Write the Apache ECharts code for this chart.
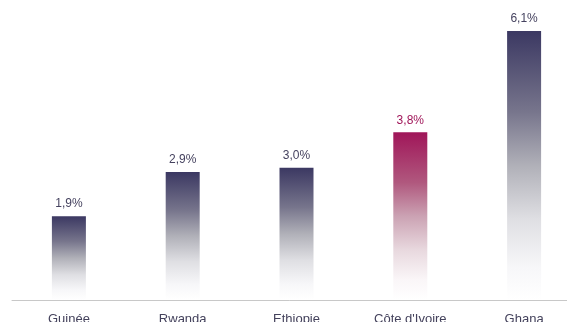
<!DOCTYPE html>
<html><head><meta charset="utf-8">
<script src="https://cdn.jsdelivr.net/npm/echarts@6/dist/echarts.min.js"></script>
<style>html,body{margin:0;padding:0;background:#fff}#c{width:567px;height:322px}</style>
</head><body><div id="c"></div>
<script>
const categories = ["Guinée", "Rwanda", "Ethiopie", "Côte d'Ivoire", "Ghana"];
const values = [1.9, 2.9, 3.0, 3.8, 6.1];
const highlightCategory = "Côte d'Ivoire";

const navyStops = ['#3b3862', '#77758c', '#b0b0b8', '#dfdfe3', '#f7f7f9', '#ffffff'];
const magentaStops = ['#a01659', '#b0587e', '#cba2b3', '#e8d8de', '#faf6f8', '#ffffff'];
const stopOffsets = [0, 0.3, 0.5, 0.7, 0.88, 1];
function grad(stops){
  return new echarts.graphic.LinearGradient(0,0,0,1, stops.map((c,i)=>({offset:stopOffsets[i], color:c})));
}
const chart = echarts.init(document.getElementById('c'), null, {renderer:'canvas'});
chart.setOption({
  animation:false,
  grid:{left:12, top:0, right:-14, bottom:22, containLabel:false, outerBoundsMode:'none'},
  xAxis:{type:'category', data:categories,
    axisLine:{lineStyle:{color:'#c8c8c8', width:1}},
    axisTick:{show:false},
    axisLabel:{color:'#44425c', fontSize:13, fontFamily:'Liberation Sans, Arial, sans-serif', margin:13}},
  yAxis:{type:'value', min:0, max:6.8, show:false, splitLine:{show:false}},
  series:[{type:'bar', barWidth:34,
    data: values.map((v,i)=>{
      const hl = categories[i]===highlightCategory;
      return {value:v, itemStyle:{color:grad(hl?magentaStops:navyStops)}, label:{color:hl?'#a01659':'#45425f'}};
    }),
    label:{show:true, position:'top', distance:6, fontSize:12, fontFamily:'Liberation Sans, Arial, sans-serif',
      formatter:p=>p.value.toFixed(1).replace('.',',')+'%'}
  }]
});
</script></body></html>
